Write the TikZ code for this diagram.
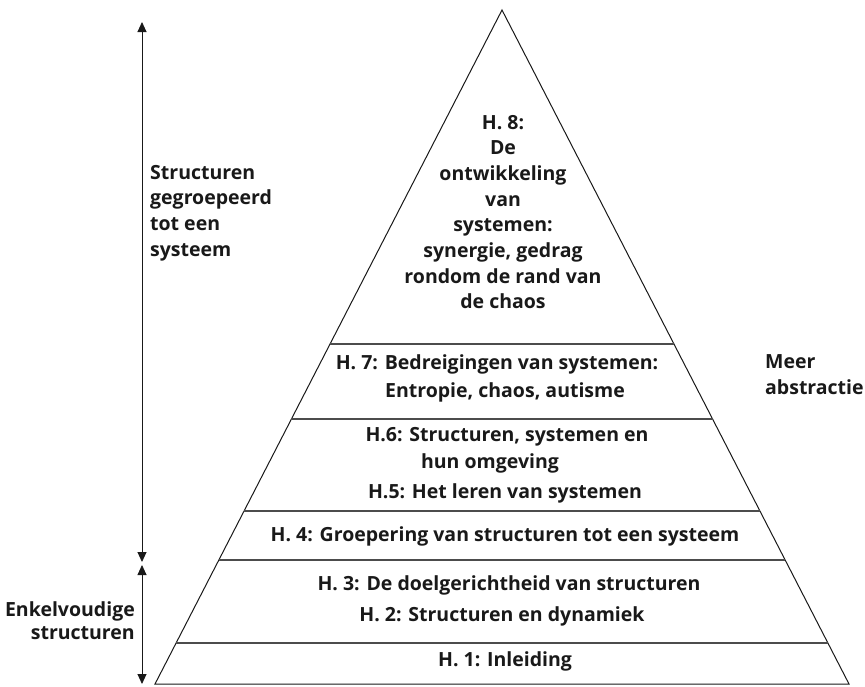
\documentclass[tikz,border=0pt]{standalone}
\usepackage{fontspec}
\setmainfont{Open Sans}
\usetikzlibrary{arrows.meta,calc}
\begin{document}
\begin{tikzpicture}[x=1pt,y=-1pt,
  lbl/.style={font=\bfseries\fontsize{19.5}{25.7}\selectfont, inner sep=0pt, text=black!90},
  edge/.style={line width=1pt, black!90},
  sep/.style={line width=1.3pt, black!70},
  dbl/.style={line width=0.9pt, black!90, {Triangle[width=9pt,length=10pt]}-{Triangle[width=9pt,length=10pt]}}]
\useasboundingbox (0,0) rectangle (865,686);
\coordinate (apex) at (502,10);
\coordinate (bl) at (155,684);
\coordinate (br) at (849,684);
\draw[edge] (apex) -- (bl) -- (br) -- cycle;
\foreach \t/\n in {0.4955/a,0.6068/b,0.7433/c,0.8160/d,0.9392/e}{
  \draw[sep] ($(apex)!\t!(bl)$) -- ($(apex)!\t!(br)$);
}
% texts
\node[lbl, align=center] (h8) at (503,212) {H. 8:\\De\\ontwikkeling\\van\\systemen:\\synergie, gedrag\\rondom de rand van\\de chaos};
\node[lbl] (h7a) at (497,364) {H. 7: Bedreigingen van systemen:};
\node[lbl] (h7b) at (505,392) {Entropie, chaos, autisme};
\node[lbl] (h6a) at (507,437) {H.6: Structuren, systemen en};
\node[lbl] (h6b) at (490,463) {hun omgeving};
\node[lbl] (h5) at (505,493) {H.5: Het leren van systemen};
\node[lbl] (h4) at (505,536) {H. 4: Groepering van structuren tot een systeem};
\node[lbl] (h3) at (509,585) {H. 3: De doelgerichtheid van structuren};
\node[lbl] (h2) at (502,616) {H. 2: Structuren en dynamiek};
\node[lbl] (h1) at (505,661) {H. 1: Inleiding};
\node[lbl, align=left, anchor=west] (sg) at (150,213) {Structuren\\gegroepeerd\\tot een\\systeem};
\node[lbl, align=left, anchor=west, font=\bfseries\fontsize{19.5}{26}\selectfont] (ma) at (765,375) {Meer\\abstractie};
\node[lbl, align=right, anchor=east, font=\bfseries\fontsize{19.5}{23}\selectfont] (ek) at (135,621) {Enkelvoudige\\structuren};
% arrows
\coordinate (t1) at (142,22);
\coordinate (t2) at (142,562);
\coordinate (t3) at (142,565);
\coordinate (t4) at (142,684);
\draw[dbl] (t1) -- (t2);
\draw[dbl] (t3) -- (t4);
\end{tikzpicture}
\end{document}
